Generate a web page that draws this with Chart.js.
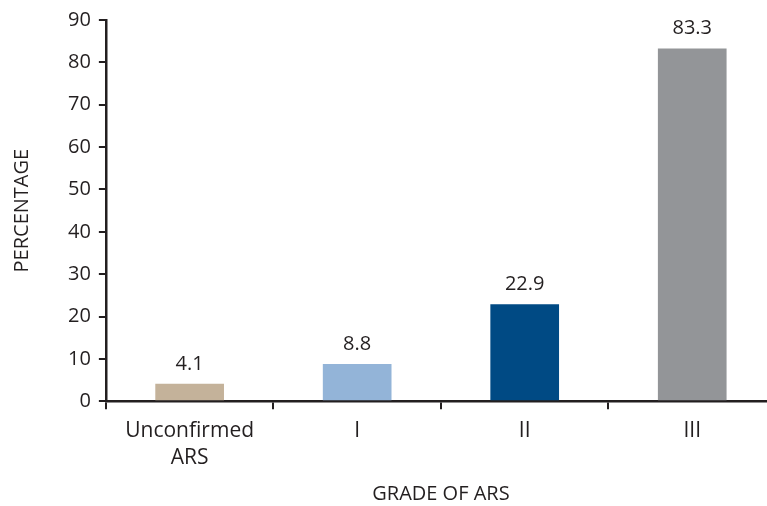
<!DOCTYPE html>
<html>
<head>
<meta charset="utf-8">
<script src="https://cdn.jsdelivr.net/npm/chart.js@4.4.1/dist/chart.umd.min.js"></script>
<style>
  html, body { margin: 0; padding: 0; background: #fff; overflow: hidden; }
  #wrap { position: relative; width: 776px; height: 506px; }
</style>
</head>
<body>
<div id="wrap"><canvas id="gradeChart"></canvas></div>
<script>
// ARS grade breakdown
const categories = [["Unconfirmed", "ARS"], "I", "II", "III"];
const percentages = [4.1, 8.8, 22.9, 83.3];
const barColors = ["#c4b29a", "#93b4d8", "#004a84", "#939598"];
const yTicks = [0, 10, 20, 30, 40, 50, 60, 70, 80, 90];

const INK = "#231f20";
const FONT = "'Open Sans', sans-serif";

// writes each bar's value above it
const valueLabels = {
  id: "valueLabels",
  afterDatasetsDraw(chart) {
    const ctx = chart.ctx;
    const meta = chart.getDatasetMeta(0);
    ctx.save();
    ctx.fillStyle = INK;
    ctx.font = "20px " + FONT;
    ctx.textAlign = "center";
    ctx.textBaseline = "alphabetic";
    meta.data.forEach((bar, i) => {
      ctx.fillText(String(percentages[i]), bar.x, bar.y - 14);
    });
    ctx.restore();
  },
};

new Chart(document.getElementById("gradeChart"), {
  type: "bar",
  data: {
    labels: categories,
    datasets: [{
      data: percentages,
      backgroundColor: barColors,
      borderWidth: 0,
      barPercentage: 0.41,
      categoryPercentage: 1,
    }],
  },
  options: {
    responsive: true,
    maintainAspectRatio: false,
    animation: false,
    layout: { padding: { top: 18, left: 10, right: 0, bottom: 0 } },
    plugins: { legend: { display: false }, tooltip: { enabled: false } },
    scales: {
      x: {
        grid: {
          offset: true,
          drawOnChartArea: false,
          drawTicks: true,
          tickLength: 8,
          tickColor: INK,
          lineWidth: 2,
        },
        border: { display: true, color: INK, width: 2.5 },
        ticks: { color: INK, font: { family: FONT, size: 21, lineHeight: 1.28 }, padding: 8 },
        title: {
          display: true,
          text: "GRADE OF ARS",
          color: INK,
          font: { family: FONT, size: 20 },
          padding: { top: 3, bottom: 0 },
        },
      },
      y: {
        min: 0,
        max: 90,
        afterBuildTicks(axis) {
          axis.ticks = yTicks.map((v) => ({ value: v }));
        },
        grid: {
          drawOnChartArea: false,
          drawTicks: true,
          tickLength: 7,
          tickColor: INK,
          lineWidth: 2,
        },
        border: { display: true, color: INK, width: 2.5 },
        ticks: { color: INK, font: { family: FONT, size: 20 }, padding: 8 },
        title: {
          display: true,
          text: "PERCENTAGE",
          color: INK,
          font: { family: FONT, size: 20 },
          padding: { top: 0, bottom: 26 },
        },
      },
    },
  },
  plugins: [valueLabels],
});
</script>
</body>
</html>
